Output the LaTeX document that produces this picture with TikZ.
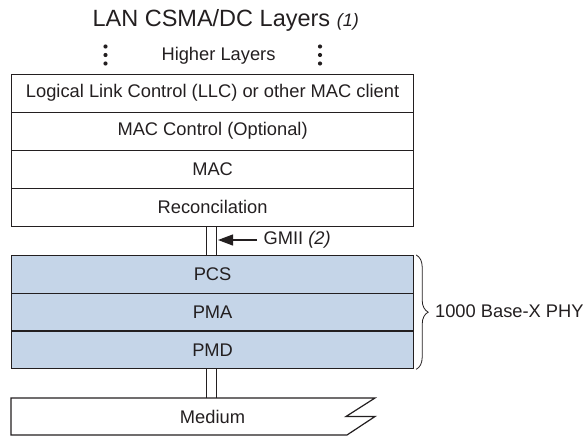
\documentclass[tikz,border=0pt]{standalone}
\usepackage{fontspec}
\setmainfont{Liberation Sans}
\usetikzlibrary{decorations.pathreplacing,arrows.meta}
\definecolor{layerblue}{RGB}{197,213,232}
\definecolor{ink}{RGB}{35,31,32}
\begin{document}
\begin{tikzpicture}[x=1pt,y=-1pt, line width=1.2pt, ink,
  layer/.style={draw=ink, minimum width=402pt, minimum height=38pt, inner sep=0pt,
    font=\fontsize{18.3}{21}\selectfont, anchor=north west, text=ink},
  phy/.style={layer, fill=layerblue, minimum height=37.7pt},
  lbl/.style={font=\fontsize{18.3}{21}\selectfont, inner sep=0pt, text=ink},
  dotmark/.style={fill=ink, draw=none}]
\useasboundingbox (0,0) rectangle (586,436);

\node[lbl, anchor=base west, font=\fontsize{23.5}{26}\selectfont] (title) at (92,27) {LAN CSMA/DC Layers {\itshape\fontsize{18}{20}\selectfont(1)}};

\node[lbl] (higher) at (218.5,55.5) {Higher Layers};
\foreach \yy in {46.5,55,63.5}{
  \fill[dotmark] (105.5,\yy) circle (2.1);
  \fill[dotmark] (320,\yy) circle (2.1);
}

\node[layer] (llc) at (11,73.5) {Logical Link Control (LLC) or other MAC client};
\node[layer] (macc) at (11,111.5) {MAC Control (Optional)};
\node[layer] (mac) at (11,149.5) {MAC};
\node[layer] (rec) at (11,187.5) {Reconcilation};

\node[phy] (pcs) at (11,255) {PCS};
\node[phy] (pma) at (11,292.7) {PMA};
\node[phy] (pmd) at (11,330.4) {PMD};

% GMII connector
\coordinate (gl) at (206.7,0);
\coordinate (gr) at (216.7,0);
\draw (rec.south -| gl) -- (pcs.north -| gl);
\draw (rec.south -| gr) -- (pcs.north -| gr);
\coordinate (gmiitail) at (257,240);
\coordinate (gmiitip) at (218,240);
\draw[-{Triangle[length=15pt,width=11pt]}] (gmiitail) -- (gmiitip);
\node[lbl, anchor=west] (gmii) at (263,240) {GMII {\itshape(2)}};

% Medium
\coordinate (medl) at (206.7,398);
\coordinate (medr) at (216.7,398);
\draw[line join=miter] (11,398) -- (375,398) -- (346,416.5) -- (375,416.5) -- (347,435) -- (11,435) -- cycle;
\node[lbl] (medium) at (212.5,417) {Medium};
\draw (pmd.south -| medl) -- (medl);
\draw (pmd.south -| medr) -- (medr);

% Brace
\draw[line width=0.8pt, decorate, decoration={brace, amplitude=12pt}]
  ([xshift=2pt]pcs.north east) -- ([xshift=2pt]pmd.south east);
\node[lbl, anchor=west] (phylbl) at (434.5,311.5) {1000 Base-X PHY};
\end{tikzpicture}
\end{document}
